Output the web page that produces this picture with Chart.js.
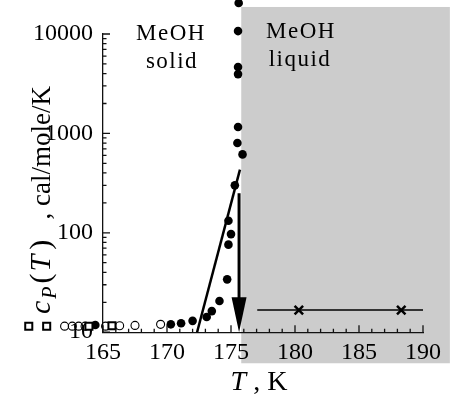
<!DOCTYPE html>
<html>
<head>
<meta charset="utf-8">
<script src="https://cdn.jsdelivr.net/npm/chart.js@4"></script>
<style>
  html, body { margin: 0; padding: 0; background: #fff; }
</style>
</head>
<body>
<canvas id="myChart" width="450" height="396"></canvas>
<script>
// methanol heat capacity around the melting point (log scale)
let filledT = [164.4, 170.3, 171.1, 172.0, 173.1, 173.5, 174.1, 174.7, 174.8, 175.0, 174.8, 175.3, 175.5, 175.9, 175.55, 175.55, 175.55, 175.55, 175.6];
let filledCp = [11.8, 12.0, 12.3, 13.0, 14.2, 16.3, 20.6, 34, 76, 97, 132, 300, 800, 615, 1160, 3950, 4650, 10700, 20500];

let openCircT = [162.0, 162.6, 163.1, 163.6, 165.2, 166.3, 167.5, 169.5];
let openCircCp = [11.5, 11.5, 11.5, 11.5, 11.5, 11.6, 11.7, 12.0];

let openSqT = [159.2, 160.6, 163.9, 165.7];
let openSqCp = [11.5, 11.5, 11.5, 11.6];

let fitT = [172.35, 175.7];
let fitCp = [10, 432];

let liquidT = [177.05, 190];
let liquidCp = [16.7, 16.7];
let liquidPtsT = [180.3, 188.3];
let liquidPtsCp = [16.7, 16.7];

// arrow at the melting point, and the shaded liquid region
let arrowT = 175.63;
let arrowCp = [250, 10];
let shadeT = [175.8, 192.1];
let shadeCp = [4.87, 18700];

let xTicks = [165, 170, 175, 180, 185, 190];
let yTicks = [10, 100, 1000, 10000];
let xRange = [165, 190];
let yRange = [10, 10000];

const serif = "'Liberation Serif', 'Times New Roman', Tinos, Times, serif";

function pts(xs, ys) {
  return xs.map((x, i) => ({ x: x, y: ys[i] }));
}

// draws a run of text pieces with different fonts, centred on x
function richText(ctx, parts, x, y) {
  const w = p => { ctx.font = p.font; return ctx.measureText(p.t).width + (p.gap || 0); };
  let total = 0;
  parts.forEach(p => { total += w(p); });
  let cx = x - total / 2;
  parts.forEach(p => {
    ctx.font = p.font;
    ctx.fillText(p.t, cx, y + (p.dy || 0));
    cx += w(p);
  });
}

let savedArea = null;

const decor = {
  id: "decor",
  beforeDraw(chart) {
    const { ctx } = chart;
    const xs = chart.scales.x, ys = chart.scales.y;
    ctx.save();
    ctx.fillStyle = "#fff";
    ctx.fillRect(0, 0, chart.width, chart.height);
    const x0 = xs.getPixelForValue(shadeT[0]), x1 = xs.getPixelForValue(shadeT[1]);
    const y0 = ys.getPixelForValue(shadeCp[1]), y1 = ys.getPixelForValue(shadeCp[0]);
    ctx.fillStyle = "#cccccc";
    ctx.fillRect(x0, y0, x1 - x0, y1 - y0);
    ctx.restore();
  },
  // the original plot lets marks spill past the axes, so widen the area while points draw
  beforeDatasetsDraw(chart) {
    savedArea = chart.chartArea;
    chart.chartArea = { left: 0, top: 0, right: chart.width, bottom: chart.height, width: chart.width, height: chart.height };
  },
  afterDatasetsDraw(chart) {
    if (savedArea) chart.chartArea = savedArea;
  },
  afterDraw(chart) {
    const { ctx, chartArea } = chart;
    const xs = chart.scales.x, ys = chart.scales.y;
    ctx.save();
    ctx.strokeStyle = "#111";
    ctx.lineWidth = 1.3;
    ctx.beginPath();
    // inward tick marks
    for (let t = 165; t <= 190; t++) {
      const px = xs.getPixelForValue(t);
      const len = t % 5 === 0 ? 7 : 3.5;
      ctx.moveTo(px, chartArea.bottom);
      ctx.lineTo(px, chartArea.bottom - len);
    }
    for (let d = 10; d <= 10000; d *= 10) {
      for (let m = 1; m <= 9; m++) {
        const v = d * m;
        if (v > 10000) break;
        const py = ys.getPixelForValue(v);
        const len = m === 1 ? 7 : 3.5;
        ctx.moveTo(chartArea.left, py);
        ctx.lineTo(chartArea.left + len, py);
      }
    }
    ctx.stroke();

    // arrow
    const ax = xs.getPixelForValue(arrowT);
    const ay0 = ys.getPixelForValue(arrowCp[0]);
    const ay1 = ys.getPixelForValue(arrowCp[1]);
    ctx.strokeStyle = "#000";
    ctx.lineWidth = 3;
    ctx.beginPath();
    ctx.moveTo(ax, ay0);
    ctx.lineTo(ax, ay1 - 30);
    ctx.stroke();
    ctx.fillStyle = "#000";
    ctx.beginPath();
    ctx.moveTo(ax - 7.5, ay1 - 35);
    ctx.lineTo(ax + 7.5, ay1 - 35);
    ctx.lineTo(ax, ay1);
    ctx.closePath();
    ctx.fill();

    // region labels
    ctx.fillStyle = "#000";
    ctx.textAlign = "center";
    ctx.textBaseline = "alphabetic";
    ctx.font = "23px " + serif;
    ctx.letterSpacing = "1.5px";
    ctx.fillText("MeOH", 171, 40);
    ctx.fillText("solid", 172, 68);
    ctx.fillText("MeOH", 301, 38);
    ctx.fillText("liquid", 300, 66);
    ctx.letterSpacing = "0px";

    // axis titles
    ctx.textAlign = "left";
    const big = "28px " + serif;
    const bigI = "italic 28px " + serif;
    richText(ctx, [
      { t: "T", font: bigI },
      { t: " , K", font: big }
    ], 259, 390);

    const mI = "italic 30px " + serif;
    const mN = "30px " + serif;
    const unit = "27px " + serif;
    ctx.translate(50, 200);
    ctx.rotate(-Math.PI / 2);
    richText(ctx, [
      { t: "c", font: mI, gap: 2 },
      { t: "P", font: "italic 20px " + serif, dy: 6, gap: 3 },
      { t: "(", font: mN, gap: 2 },
      { t: "T", font: mI, gap: 5 },
      { t: ")", font: mN },
      { t: "   , ", font: unit },
      { t: "cal/mole/K", font: unit }
    ], 0, 0);
    ctx.restore();
  }
};

new Chart(document.getElementById("myChart").getContext("2d"), {
  type: "scatter",
  data: {
    datasets: [
      {
        data: pts(fitT, fitCp),
        showLine: true,
        borderColor: "#000",
        borderWidth: 2.5,
        pointRadius: 0,
        clip: false
      },
      {
        data: pts(liquidT, liquidCp),
        showLine: true,
        borderColor: "#000",
        borderWidth: 1.4,
        pointRadius: 0,
        clip: false
      },
      {
        data: pts(liquidPtsT, liquidPtsCp),
        pointStyle: "crossRot",
        pointRadius: 6,
        borderColor: "#000",
        borderWidth: 2.5,
        clip: false
      },
      {
        data: pts(openSqT, openSqCp),
        pointStyle: "rect",
        pointRadius: 5,
        backgroundColor: "#fff",
        borderColor: "#000",
        borderWidth: 2,
        clip: false
      },
      {
        data: pts(openCircT, openCircCp),
        pointStyle: "circle",
        pointRadius: 4,
        backgroundColor: "rgba(255,255,255,0)",
        borderColor: "#000",
        borderWidth: 1.1,
        clip: false
      },
      {
        data: pts(filledT, filledCp),
        pointStyle: "circle",
        pointRadius: 4.3,
        backgroundColor: "#000",
        borderColor: "#000",
        borderWidth: 0,
        clip: false
      }
    ]
  },
  options: {
    responsive: false,
    animation: false,
    events: [],
    layout: { padding: { left: 23, right: 27, top: 34, bottom: 23 } },
    plugins: {
      legend: { display: false },
      tooltip: { enabled: false }
    },
    scales: {
      x: {
        type: "linear",
        // limits set after the data pass so points outside the axes still get drawn
        afterDataLimits: axis => { axis.min = xRange[0]; axis.max = xRange[1]; },
        afterBuildTicks: axis => { axis.ticks = xTicks.map(v => ({ value: v })); },
        grid: { display: false, drawTicks: false },
        border: { display: true, color: "#111", width: 1.3 },
        ticks: {
          autoSkip: false,
          maxRotation: 0,
          padding: 6,
          color: "#000",
          font: { family: serif, size: 24 }
        }
      },
      y: {
        type: "logarithmic",
        afterDataLimits: axis => { axis.min = yRange[0]; axis.max = yRange[1]; },
        afterBuildTicks: axis => { axis.ticks = yTicks.map(v => ({ value: v })); },
        grid: { display: false, drawTicks: false },
        border: { display: true, color: "#111", width: 1.3 },
        ticks: {
          padding: 10,
          color: "#000",
          font: { family: serif, size: 24 },
          callback: v => String(v)
        }
      }
    }
  },
  plugins: [decor]
});
</script>
</body>
</html>
